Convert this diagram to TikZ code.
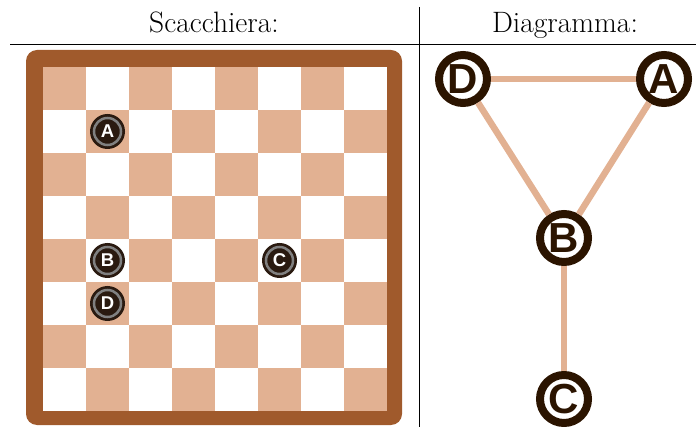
\documentclass[tikz,border=0pt]{standalone}
\usepackage{fontspec}
\newfontfamily\lettersf{Liberation Sans}
\definecolor{tan}{HTML}{E2B192}
\definecolor{frame}{HTML}{A05A2C}
\definecolor{darkb}{HTML}{2B1400}
\definecolor{piecefill}{HTML}{2A1A10}
\definecolor{ringgray}{HTML}{808080}
\tikzset{
  header/.style={anchor=base, font=\fontsize{29.5}{34}\selectfont},
  piece/.style={circle, fill=piecefill, minimum size=35pt, inner sep=0pt,
    text=white, font=\lettersf\bfseries\fontsize{18.5}{18}\selectfont,
    path picture={\draw[ringgray, line width=2.5pt] (path picture bounding box.center) circle (13.5pt);}},
  gnode/.style={circle, draw=darkb, line width=8pt, fill=white, minimum size=48pt, inner sep=0pt,
    text=darkb, font=\lettersf\bfseries\fontsize{42}{42}\selectfont},
  gedge/.style={draw=tan, line width=6.5pt},
  rule/.style={draw=black, line width=1.1pt}
}
\begin{document}
\begin{tikzpicture}[x=1pt, y=-1pt]
\useasboundingbox (0,0) rectangle (696,427);
% headers
\node[header] (h1) at (214,33) {Scacchiera:};
\node[header] (h2) at (565,33) {Diagramma:};
\coordinate (hl) at (10,44.5);
\coordinate (hr) at (696,44.5);
\coordinate (vt) at (419,7);
\coordinate (vb) at (419,427);
\draw[rule] (hl) -- (hr);
\draw[draw=black, line width=0.9pt] (vt) -- (vb);
% board frame
\fill[frame, rounded corners=11pt] (26,50) rectangle (402,425);
\fill[white] (43,67) rectangle (387,411);
\foreach \r in {0,...,7}{
  \foreach \c in {0,...,7}{
    \pgfmathparse{int(mod(\r+\c,2))}
    \ifnum\pgfmathresult=0
      \fill[tan] ({43+43*\c},{67+43*\r}) rectangle ++(43,43);
    \fi
  }
}
% pieces
\node[piece] (pA) at (107.5,131.5) {A};
\node[piece] (pB) at (107.5,260.5) {B};
\node[piece] (pD) at (107.5,303.5) {D};
\node[piece] (pC) at (279.5,260.5) {C};
% diagram
\node[gnode] (nD) at (463,79) {D};
\node[gnode] (nA) at (664,79) {A};
\node[gnode] (nB) at (564,238) {B};
\node[gnode] (nC) at (564,399) {C};
\draw[gedge] (nD) -- (nA);
\draw[gedge] (nD) -- (nB);
\draw[gedge] (nA) -- (nB);
\draw[gedge] (nB) -- (nC);
\end{tikzpicture}
\end{document}
